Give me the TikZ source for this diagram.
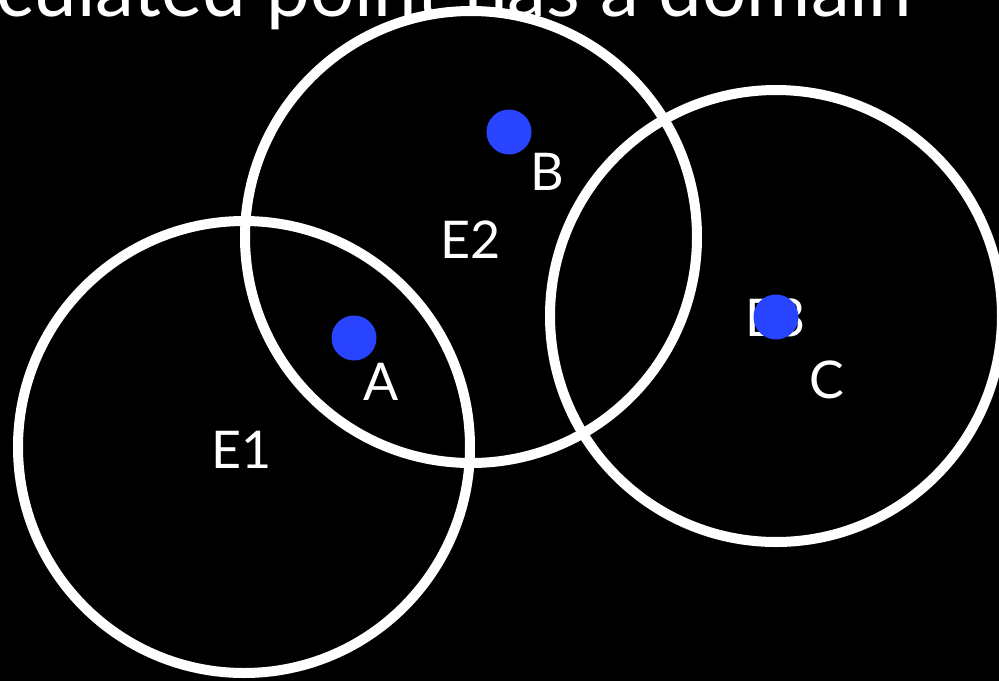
\documentclass[tikz,border=0pt]{standalone}
\usepackage{fontspec}
\setmainfont{Lato}
\usepackage{tikz}
\usetikzlibrary{positioning}
\definecolor{dotblue}{RGB}{41,68,255}

\begin{document}
\begin{tikzpicture}[x=1pt,y=-1pt,white]
  \tikzstyle{region}=[draw,circle,line width=10pt,minimum size=452pt,inner sep=0pt]
  \tikzstyle{pt}=[circle,fill=dotblue,minimum size=45pt,inner sep=0pt]
  \tikzstyle{lbl}=[font=\fontsize{52}{60}\selectfont,inner sep=0pt]
  \fill[black] (0,0) rectangle (999,681);
  \useasboundingbox (0,0) rectangle (999,681);
  \begin{scope}
    \clip (0,0) rectangle (999,681);
    \node[anchor=base east,inner sep=0pt,font=\fontsize{78}{90}\selectfont] (title) at (912,16) {calculated point has a domain};
    \node[region] (e1) at (244,447) {};
    \node[region] (e2) at (471,237) {};
    \node[region] (e3) at (776,316) {};
  \end{scope}
  \node[lbl] (e1lbl) at (242,450) {E1};
  \node[lbl] (e2lbl) at (471,240) {E2};
  \node[lbl] (e3lbl) at (776,318) {E3};
  \node[pt] (a) at (354,338) {};
  \node[pt] (b) at (509,132) {};
  \node[pt] (c) at (776,317) {};
  \node[lbl] (albl) at (381,382) {A};
  \node[lbl] (blbl) at (547,172) {B};
  \node[lbl] (clbl) at (827,380) {C};
\end{tikzpicture}
\end{document}
